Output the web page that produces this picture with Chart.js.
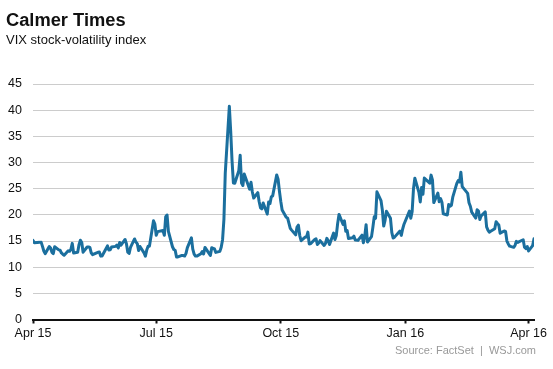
<!DOCTYPE html>
<html><head><meta charset="utf-8">
<script src="https://cdn.jsdelivr.net/npm/chart.js@4"></script>
<style>
html,body{margin:0;padding:0;background:#fff;}
#wrap{position:relative;width:553px;height:369px;overflow:hidden;font-family:"Liberation Sans",Arial,sans-serif;}
canvas{position:absolute;left:0;top:0;}
.t{position:absolute;white-space:pre;line-height:1;}
</style></head><body>
<div id="wrap">
<canvas id="c" width="553" height="369"></canvas>
<div class="t" style="left:6px;top:11px;font-size:18.3px;font-weight:bold;color:#111">Calmer Times</div>
<div class="t" style="left:6px;top:33px;font-size:13px;color:#111">VIX stock-volatility index</div>
<div class="t" style="right:17px;top:345px;font-size:11px;color:#999">Source: FactSet  |  WSJ.com</div>
</div>
<script>
const dates = [
"2015-04-01","2015-04-02","2015-04-06","2015-04-07","2015-04-08","2015-04-09","2015-04-10","2015-04-13","2015-04-14","2015-04-15","2015-04-16","2015-04-17","2015-04-20","2015-04-21","2015-04-22","2015-04-23","2015-04-24","2015-04-27","2015-04-28","2015-04-29","2015-04-30",
"2015-05-01","2015-05-04","2015-05-05","2015-05-06","2015-05-07","2015-05-08","2015-05-11","2015-05-12","2015-05-13","2015-05-14","2015-05-15","2015-05-18","2015-05-19","2015-05-20","2015-05-21","2015-05-22","2015-05-26","2015-05-27","2015-05-28","2015-05-29",
"2015-06-01","2015-06-02","2015-06-03","2015-06-04","2015-06-05","2015-06-08","2015-06-09","2015-06-10","2015-06-11","2015-06-12","2015-06-15","2015-06-16","2015-06-17","2015-06-18","2015-06-19","2015-06-22","2015-06-23","2015-06-24","2015-06-25","2015-06-26","2015-06-29","2015-06-30",
"2015-07-01","2015-07-02","2015-07-06","2015-07-07","2015-07-08","2015-07-09","2015-07-10","2015-07-13","2015-07-14","2015-07-15","2015-07-16","2015-07-17","2015-07-20","2015-07-21","2015-07-22","2015-07-23","2015-07-24","2015-07-27","2015-07-28","2015-07-29","2015-07-30","2015-07-31",
"2015-08-03","2015-08-04","2015-08-05","2015-08-06","2015-08-07","2015-08-10","2015-08-11","2015-08-12","2015-08-13","2015-08-14","2015-08-17","2015-08-18","2015-08-19","2015-08-20","2015-08-21","2015-08-24","2015-08-25","2015-08-26","2015-08-27","2015-08-28","2015-08-31",
"2015-09-01","2015-09-02","2015-09-03","2015-09-04","2015-09-08","2015-09-09","2015-09-10","2015-09-11","2015-09-14","2015-09-15","2015-09-16","2015-09-17","2015-09-18","2015-09-21","2015-09-22","2015-09-23","2015-09-24","2015-09-25","2015-09-28","2015-09-29","2015-09-30",
"2015-10-01","2015-10-02","2015-10-05","2015-10-06","2015-10-07","2015-10-08","2015-10-09","2015-10-12","2015-10-13","2015-10-14","2015-10-15","2015-10-16","2015-10-19","2015-10-20","2015-10-21","2015-10-22","2015-10-23","2015-10-26","2015-10-27","2015-10-28","2015-10-29","2015-10-30",
"2015-11-02","2015-11-03","2015-11-04","2015-11-05","2015-11-06","2015-11-09","2015-11-10","2015-11-11","2015-11-12","2015-11-13","2015-11-16","2015-11-17","2015-11-18","2015-11-19","2015-11-20","2015-11-23","2015-11-24","2015-11-25","2015-11-27","2015-11-30",
"2015-12-01","2015-12-02","2015-12-03","2015-12-04","2015-12-07","2015-12-08","2015-12-09","2015-12-10","2015-12-11","2015-12-14","2015-12-15","2015-12-16","2015-12-17","2015-12-18","2015-12-21","2015-12-22","2015-12-23","2015-12-24","2015-12-28","2015-12-29","2015-12-30","2015-12-31",
"2016-01-04","2016-01-05","2016-01-06","2016-01-07","2016-01-08","2016-01-11","2016-01-12","2016-01-13","2016-01-14","2016-01-15","2016-01-19","2016-01-20","2016-01-21","2016-01-22","2016-01-25","2016-01-26","2016-01-27","2016-01-28","2016-01-29",
"2016-02-01","2016-02-02","2016-02-03","2016-02-04","2016-02-05","2016-02-08","2016-02-09","2016-02-10","2016-02-11","2016-02-12","2016-02-16","2016-02-17","2016-02-18","2016-02-19","2016-02-22","2016-02-23","2016-02-24","2016-02-25","2016-02-26","2016-02-29",
"2016-03-01","2016-03-02","2016-03-03","2016-03-04","2016-03-07","2016-03-08","2016-03-09","2016-03-10","2016-03-11","2016-03-14","2016-03-15","2016-03-16","2016-03-17","2016-03-18","2016-03-21","2016-03-22","2016-03-23","2016-03-24","2016-03-28","2016-03-29","2016-03-30","2016-03-31",
"2016-04-01","2016-04-04","2016-04-05"
];
const vix = [
15.11,14.67,14.74,14.78,13.98,13.09,12.58,13.94,13.67,12.84,12.60,13.89,13.30,13.25,12.71,12.48,12.29,13.12,13.03,13.39,14.55,
12.70,12.85,14.31,15.15,14.71,12.86,13.85,13.86,13.76,12.74,12.38,12.73,12.85,12.88,12.11,12.13,14.06,13.27,13.31,13.84,
13.97,14.24,13.66,14.71,14.21,15.29,14.47,12.85,12.61,13.78,15.39,14.81,14.50,13.19,13.96,12.74,12.11,13.26,14.01,14.02,18.85,18.23,
16.09,16.79,17.01,16.09,19.66,19.97,16.83,13.90,13.37,13.23,11.95,11.95,12.25,12.22,12.12,12.64,13.74,15.60,13.44,12.50,12.13,12.12,
12.56,13.00,12.51,13.77,13.39,12.23,13.71,13.61,13.49,12.83,13.02,13.79,15.25,19.14,28.03,40.74,36.02,30.32,26.10,26.05,28.43,
31.40,26.09,25.61,27.80,24.90,26.23,24.37,23.20,24.25,22.54,21.35,21.14,22.28,20.14,22.44,22.13,23.47,23.62,27.63,26.83,24.50,
22.55,20.94,19.54,19.40,18.40,17.42,17.08,16.17,17.67,18.03,16.05,15.05,15.75,15.75,16.70,14.45,14.46,15.29,15.43,14.33,14.61,15.07,
14.15,14.54,15.51,15.05,14.33,16.52,15.29,16.06,18.37,20.08,18.16,18.84,16.85,16.99,15.47,15.62,15.93,15.19,15.12,16.13,
14.67,15.91,18.11,14.81,15.84,17.60,19.61,19.34,24.39,22.73,20.95,17.86,18.94,20.70,19.34,16.60,15.57,15.74,16.91,16.08,17.29,18.21,
20.70,19.34,20.59,24.99,27.01,24.30,22.47,25.22,23.95,27.02,26.05,27.59,26.69,22.34,24.15,22.50,23.11,22.42,20.20,
19.98,21.98,21.65,21.84,23.38,26.00,26.54,26.29,28.14,25.40,24.11,22.31,21.64,20.53,19.38,20.98,20.72,19.11,19.81,20.55,
17.70,17.09,16.70,16.86,17.35,18.67,18.34,18.05,16.50,16.92,16.84,14.99,14.44,14.02,13.79,14.17,14.94,14.74,15.24,13.82,13.56,13.95,
13.10,14.12,15.42
];
const tickDates = ["2015-04-01","2015-07-01","2015-10-01","2016-01-01","2016-04-01"];
const tickLabels = ["Apr 15","Jul 15","Oct 15","Jan 16","Apr 16"];
const yTicks = [0,5,10,15,20,25,30,35,40,45];
const axisStart = "2015-04-01";
const axisEnd = "2016-04-05";

const dayOf = s => (Date.parse(s + "T00:00:00Z") - Date.parse(axisStart + "T00:00:00Z")) / 86400000;
const points = dates.map((d, i) => ({x: dayOf(d), y: vix[i]}));
const tickDays = tickDates.map(dayOf);
const FONT = '"Liberation Sans", Arial, sans-serif';

new Chart(document.getElementById('c'), {
  type: 'line',
  data: { datasets: [{
    data: points,
    borderColor: '#1b6f9e',
    borderWidth: 3,
    pointRadius: 0,
    tension: 0,
    borderJoinStyle: 'round',
    borderCapStyle: 'round',
    fill: false
  }]},
  options: {
    responsive: false,
    devicePixelRatio: 1,
    animation: false,
    events: [],
    layout: { padding: { left: 8, right: 19, top: 84, bottom: 24.5 } },
    plugins: { legend: { display: false }, tooltip: { enabled: false }, title: { display: false } },
    scales: {
      x: {
        type: 'linear',
        min: 0,
        max: dayOf(axisEnd),
        afterBuildTicks: s => { s.ticks = tickDays.map(v => ({value: v})); },
        ticks: {
          autoSkip: false, maxRotation: 0, padding: 3, color: '#111',
          font: { family: FONT, size: 12.5 },
          callback: (v, i) => tickLabels[i]
        },
        grid: { drawOnChartArea: false, drawTicks: true, tickLength: 4, tickColor: '#111', tickWidth: 2, color: '#111' },
        border: { display: true, color: '#111', width: 2 }
      },
      y: {
        min: 0, max: 45,
        afterBuildTicks: s => { s.ticks = yTicks.map(v => ({value: v})); },
        afterFit: s => { s.width = 25; },
        ticks: { padding: 11, color: '#111', font: { family: FONT, size: 12.5 } },
        grid: { drawTicks: false, color: c => (c.tick && c.tick.value === 0) ? 'rgba(0,0,0,0)' : '#cccccc', lineWidth: 1 },
        border: { display: false }
      }
    }
  }
});
</script>
</body></html>
